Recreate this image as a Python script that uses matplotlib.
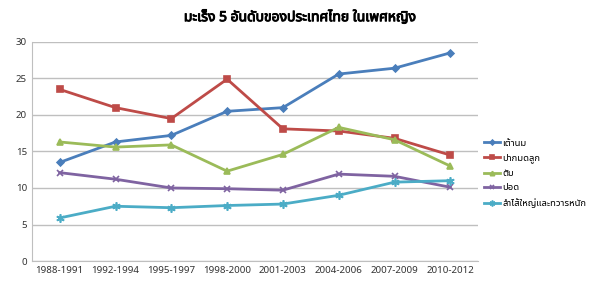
import matplotlib.pyplot as plt
import matplotlib.patheffects as pe
import numpy as np

periods = ["1988-1991", "1992-1994", "1995-1997", "1998-2000",
           "2001-2003", "2004-2006", "2007-2009", "2010-2012"]
breast = [13.5, 16.3, 17.2, 20.5, 21.0, 25.6, 26.4, 28.5]
cervix = [23.5, 21.0, 19.5, 24.9, 18.1, 17.8, 16.8, 14.5]
liver = [16.3, 15.6, 15.9, 12.3, 14.6, 18.3, 16.6, 13.0]
lung = [12.1, 11.2, 10.0, 9.9, 9.7, 11.9, 11.6, 10.1]
colorectal = [5.9, 7.5, 7.3, 7.6, 7.8, 9.0, 10.8, 11.0]
names = ["เต้านม", "ปากมดลูก", "ตับ", "ปอด", "ลำไส้ใหญ่และทวารหนัก"]

plt.rcParams['font.family'] = ['Noto Sans Thai', 'Noto Sans', 'DejaVu Sans']

fig = plt.figure(figsize=(6, 2.91), dpi=100)
ax = fig.add_axes([0.053, 0.103, 0.744, 0.753])

x = np.arange(len(periods))
styles = [
    (breast, "#4A7EBB", "D", 3.5),
    (cervix, "#BE4B48", "s", 4.5),
    (liver, "#9BBB59", "^", 4.5),
    (lung, "#7F63A1", "x", 5),
    (colorectal, "#4BACC6", (6, 2, 0), 6),
]
for (vals, c, m, ms), name in zip(styles, names):
    ax.plot(x, vals, color=c, lw=2, marker=m, ms=ms, mew=1.2, label=name)

ax.set_ylim(0, 30)
ax.set_yticks(range(0, 31, 5))
ax.set_xlim(-0.5, len(periods) - 0.5)
ax.set_xticks(x)
ax.set_xticklabels(periods)
ax.tick_params(labelsize=7, colors="#333333", length=0)
ax.grid(axis="y", color="#BFBFBF", lw=1)
ax.set_axisbelow(True)
for s in ["top", "right"]:
    ax.spines[s].set_visible(False)
ax.spines["left"].set_color("#BFBFBF")
ax.spines["bottom"].set_color("#BFBFBF")

title = fig.suptitle("มะเร็ง 5 อันดับของประเทศไทย ในเพศหญิง", fontsize=10,
                     fontweight="bold", y=0.965)
title.set_path_effects([pe.withStroke(linewidth=0.7, foreground="black")])

ax.legend(loc="center left", bbox_to_anchor=(0.995, 0.40), frameon=False,
          fontsize=6.8, handlelength=1.6, handletextpad=0.3,
          labelspacing=0.6, markerscale=0.7)

fig.savefig("out.png", dpi=100)
